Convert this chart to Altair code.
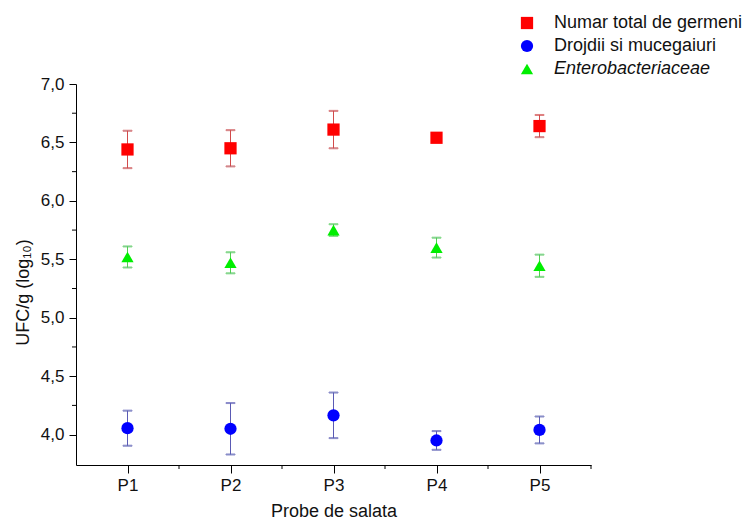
import altair as alt
import pandas as pd

samples = [1, 2, 3, 4, 5]
series_names = ["Numar total de germeni", "Drojdii si mucegaiuri", "Enterobacteriaceae"]

ntg_mean = [6.44, 6.45, 6.61, 6.54, 6.64]
ntg_err = [0.16, 0.155, 0.16, 0.01, 0.095]
dm_mean = [4.055, 4.05, 4.165, 3.95, 4.04]
dm_err = [0.15, 0.22, 0.195, 0.08, 0.115]
ent_mean = [5.52, 5.47, 5.75, 5.60, 5.445]
ent_err = [0.09, 0.09, 0.05, 0.085, 0.095]

y_major = [4.0, 4.5, 5.0, 5.5, 6.0, 6.5, 7.0]
y_minor = [4.25, 4.75, 5.25, 5.75, 6.25, 6.75]
x_minor = [1.5, 2.5, 3.5, 4.5, 5.5]

rows = []
for name, means, errs in [(series_names[0], ntg_mean, ntg_err),
                          (series_names[1], dm_mean, dm_err),
                          (series_names[2], ent_mean, ent_err)]:
    for s, m, e in zip(samples, means, errs):
        rows.append({"series": name, "sample": s, "mean": m, "lo": m - e, "hi": m + e})
df = pd.DataFrame(rows)

FONT = "Liberation Sans"
xscale = alt.Scale(domain=[0.5, 5.5], nice=False, zero=False)
yscale = alt.Scale(domain=[3.74, 7.0], nice=False, zero=False)

fill_enc = alt.Fill("series:N", scale=alt.Scale(domain=series_names,
                    range=["#ff0000", "#0000ff", "#00ee00"]), legend=None)
shape_enc = alt.Shape("series:N", scale=alt.Scale(domain=series_names,
                      range=["square", "circle", "triangle-up"]), legend=None)
size_enc = alt.Size("series:N", scale=alt.Scale(domain=series_names,
                    range=[150, 150, 320]), legend=None)
stroke_enc = alt.Stroke("series:N", scale=alt.Scale(domain=series_names,
                        range=["#d24a4a", "#5a5ab4", "#50d050"]), legend=None)

base = alt.Chart(df)

bars = base.mark_rule(strokeWidth=1).encode(
    x=alt.X("sample:Q", scale=xscale),
    y=alt.Y("lo:Q", scale=yscale),
    y2="hi:Q",
    stroke=stroke_enc,
)
cap_lo = base.mark_tick(orient="horizontal", size=9, thickness=1).encode(
    x=alt.X("sample:Q", scale=xscale), y=alt.Y("lo:Q", scale=yscale), stroke=stroke_enc)
cap_hi = base.mark_tick(orient="horizontal", size=9, thickness=1).encode(
    x=alt.X("sample:Q", scale=xscale), y=alt.Y("hi:Q", scale=yscale), stroke=stroke_enc)

points = base.mark_point(filled=True, opacity=1, strokeWidth=0).encode(
    x=alt.X("sample:Q", scale=xscale,
            axis=alt.Axis(values=samples, labelExpr="'P' + datum.value",
                          title="Probe de salata", grid=False, tickSize=8,
                          labelPadding=4, titlePadding=9)),
    y=alt.Y("mean:Q", scale=yscale,
            axis=alt.Axis(values=y_major,
                          labelExpr="replace(format(datum.value, '.1f'), '.', ',')",
                          title="UFC/g (log₁₀)", grid=False, tickSize=7,
                          labelPadding=5, titlePadding=8, titleY=208)),
    fill=fill_enc, shape=shape_enc, size=size_enc,
)

ymin_df = pd.DataFrame({"v": y_minor})
xmin_df = pd.DataFrame({"v": x_minor})
y_minor_ticks = alt.Chart(ymin_df).mark_rule(color="#000", strokeWidth=1).encode(
    y=alt.Y("v:Q", scale=yscale), x=alt.value(-4), x2=alt.value(0))
x_minor_ticks = alt.Chart(xmin_df).mark_rule(color="#000", strokeWidth=1).encode(
    x=alt.X("v:Q", scale=xscale), y=alt.value(381), y2=alt.value(385))

main = alt.layer(bars, cap_lo, cap_hi, points, y_minor_ticks, x_minor_ticks)

# custom legend (own y scale: one row per series)
leg_df = pd.DataFrame({"series": series_names})
leg_y = alt.Y("series:N", scale=alt.Scale(type="point", domain=series_names,
              range=[-61, -15], padding=0), axis=None)
leg_sym = alt.Chart(leg_df).mark_point(filled=True, opacity=1, strokeWidth=0).encode(
    x=alt.value(451), y=leg_y,
    fill=fill_enc, shape=shape_enc,
    size=alt.Size("series:N", scale=alt.Scale(domain=series_names, range=[140, 150, 280]), legend=None),
)
leg_txt = alt.Chart(leg_df).transform_filter(
    alt.datum.series != "Enterobacteriaceae").mark_text(
    align="left", baseline="middle", font=FONT, fontSize=18, color="#111").encode(
    x=alt.value(478), y=leg_y, text="series:N")
leg_txt_it = alt.Chart(leg_df).transform_filter(
    alt.datum.series == "Enterobacteriaceae").mark_text(
    align="left", baseline="middle", font=FONT, fontSize=18, fontStyle="italic", color="#111").encode(
    x=alt.value(478), y=leg_y, text="series:N")
legend = alt.layer(leg_sym, leg_txt, leg_txt_it)

chart = alt.layer(main, legend).resolve_scale(y="independent").properties(
    width=515, height=381,
    autosize="none",
    padding={"left": 68, "top": 76, "right": 155, "bottom": 60},
).configure_view(stroke=None).configure_axis(
    domainColor="#000", tickColor="#000", labelFont=FONT, titleFont=FONT,
    labelFontSize=17, titleFontSize=18, labelColor="#111", titleColor="#111",
    titleFontWeight="normal", domainWidth=1, tickWidth=1,
)

chart.save("out.html", embed_options={"renderer": "svg", "actions": False})
